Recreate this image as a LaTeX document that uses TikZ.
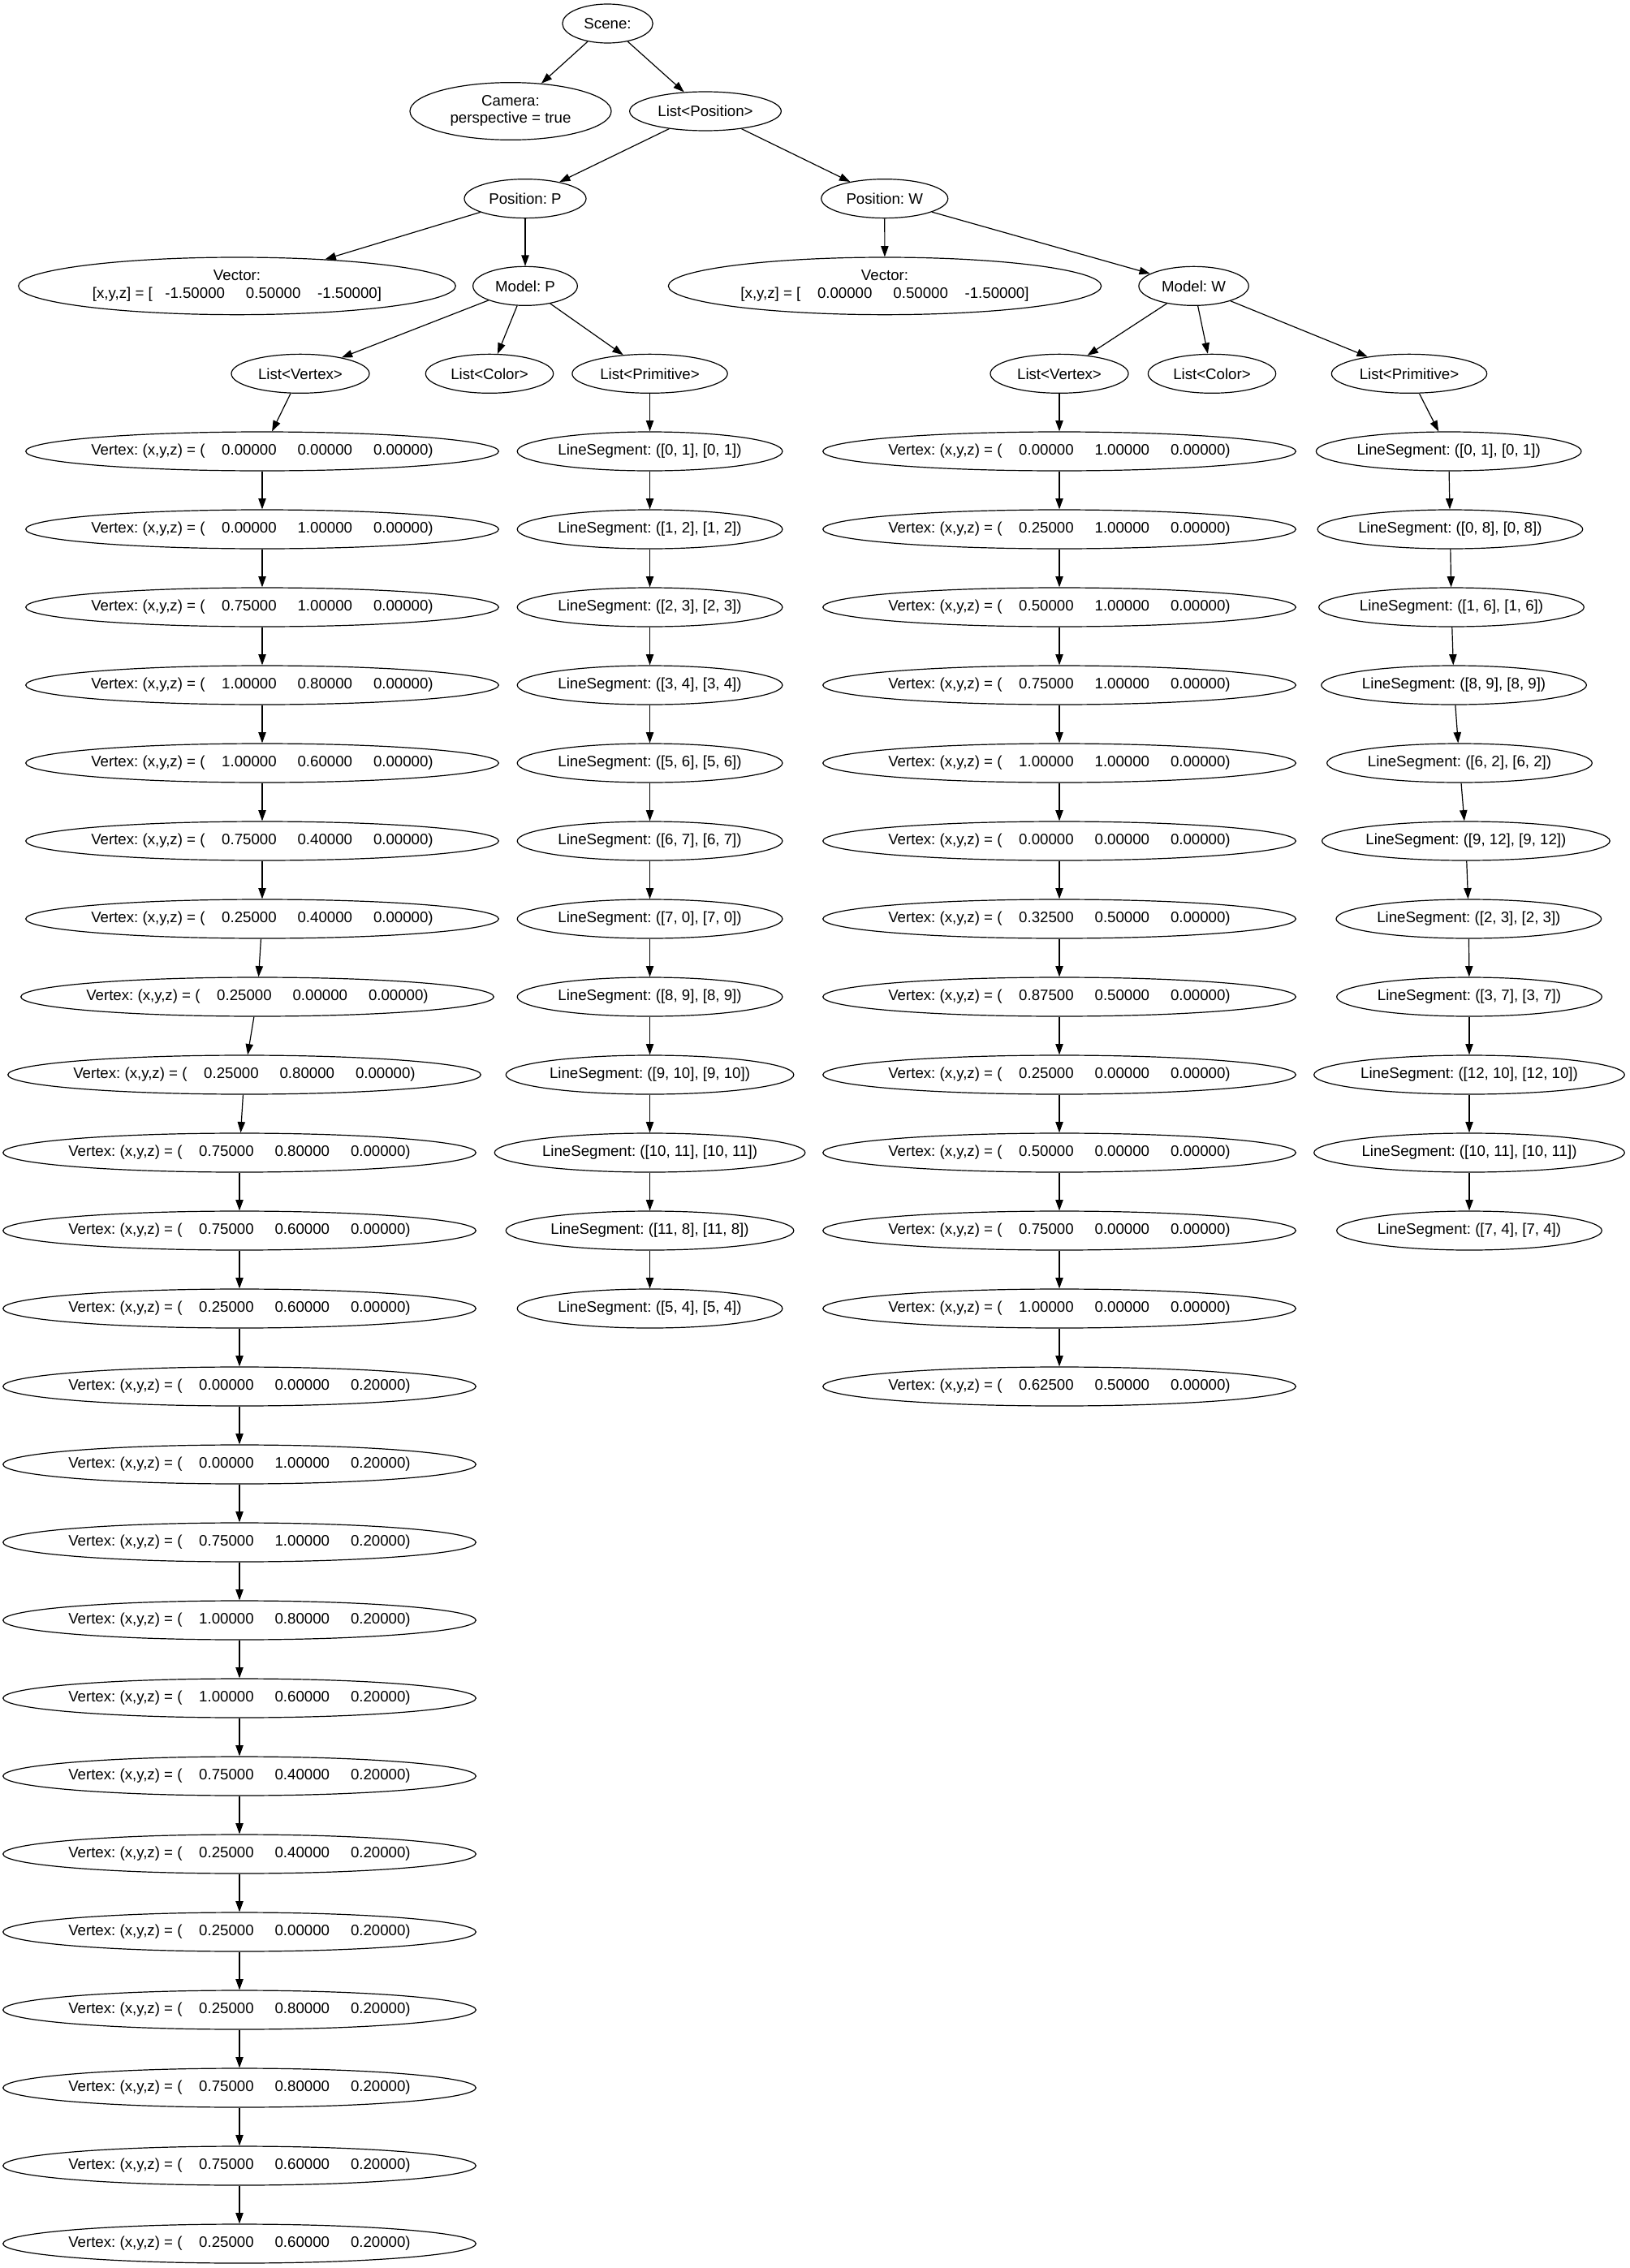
\documentclass[tikz,border=0pt]{standalone}
\usepackage{fontspec}
\setmainfont{Liberation Sans}
\usetikzlibrary{arrows.meta,shapes.geometric}
\frenchspacing
\newcommand\gfont{\fontsize{14}{16}\selectfont\frenchspacing}
\newcommand\gnode[5]{%
  \node[gn, minimum width=#4pt] (#1) at (#2pt,-#3pt) {\makebox[0pt]{#5}};}
\newcommand\vx[3]{Vertex: (x,y,z) = (\ \ \ \ #1\ \ \ \ \ #2\ \ \ \ \ #3)}
\newcommand\lseg[1]{LineSegment: (#1)}
\begin{document}
\begin{tikzpicture}[
  gn/.style={draw, ellipse, inner sep=0pt, minimum height=36pt, line width=0.9pt, font=\gfont},
  conn/.style={draw, line width=0.9pt, -{Triangle[length=10pt,width=7pt]}}
]
\useasboundingbox (0,0) rectangle (1506pt,-2095.5pt);
% top
\gnode{scene}{561.4}{21.75}{83.5}{Scene:}
\node[gn, minimum width=186pt, minimum height=53pt] (cam) at (471.75pt,-102.75pt)
  {\makebox[0pt]{\begin{tabular}{@{}c@{}}Camera:\\perspective = true\end{tabular}}};
\gnode{lpos}{651.75}{102.75}{140}{List<Position>}
\gnode{posp}{485.25}{183.5}{112.5}{Position: P}
\gnode{posw}{817.3}{183.5}{117}{Position: W}
\node[gn, minimum width=404pt, minimum height=53pt] (vecp) at (219pt,-264.25pt)
  {\makebox[0pt]{\begin{tabular}{@{}c@{}}Vector:\\{}[x,y,z] = [\ \ \ -1.50000\ \ \ \ \ 0.50000\ \ \ \ -1.50000]\end{tabular}}};
\gnode{modp}{485.25}{264.25}{96.5}{Model: P}
\node[gn, minimum width=400pt, minimum height=53pt] (vecw) at (817.5pt,-264.25pt)
  {\makebox[0pt]{\begin{tabular}{@{}c@{}}Vector:\\{}[x,y,z] = [\ \ \ \ 0.00000\ \ \ \ \ 0.50000\ \ \ \ -1.50000]\end{tabular}}};
\gnode{modw}{1102.9}{264.25}{101.5}{Model: W}
\gnode{lvp}{277.5}{345.25}{127.5}{List<Vertex>}
\gnode{lcp}{452.25}{345.25}{118}{List<Color>}
\gnode{lpp}{600.4}{345.25}{143.5}{List<Primitive>}
\gnode{lvw}{978.75}{345.25}{127.5}{List<Vertex>}
\gnode{lcw}{1119.75}{345.25}{118}{List<Color>}
\gnode{lpw}{1302}{345.25}{143.5}{List<Primitive>}
% vertices P
\gnode{vp1}{242.25}{417}{437}{\vx{0.00000}{0.00000}{0.00000}}
\gnode{vp2}{242.25}{489}{437}{\vx{0.00000}{1.00000}{0.00000}}
\gnode{vp3}{242.25}{561}{437}{\vx{0.75000}{1.00000}{0.00000}}
\gnode{vp4}{242.25}{633}{437}{\vx{1.00000}{0.80000}{0.00000}}
\gnode{vp5}{242.25}{705}{437}{\vx{1.00000}{0.60000}{0.00000}}
\gnode{vp6}{242.25}{777}{437}{\vx{0.75000}{0.40000}{0.00000}}
\gnode{vp7}{242.25}{849}{437}{\vx{0.25000}{0.40000}{0.00000}}
\gnode{vp8}{237.75}{921}{437}{\vx{0.25000}{0.00000}{0.00000}}
\gnode{vp9}{225.75}{993}{437}{\vx{0.25000}{0.80000}{0.00000}}
\gnode{vp10}{221.25}{1065}{437}{\vx{0.75000}{0.80000}{0.00000}}
\gnode{vp11}{221.25}{1137}{437}{\vx{0.75000}{0.60000}{0.00000}}
\gnode{vp12}{221.25}{1209}{437}{\vx{0.25000}{0.60000}{0.00000}}
\gnode{vp13}{221.25}{1281}{437}{\vx{0.00000}{0.00000}{0.20000}}
\gnode{vp14}{221.25}{1353}{437}{\vx{0.00000}{1.00000}{0.20000}}
\gnode{vp15}{221.25}{1425}{437}{\vx{0.75000}{1.00000}{0.20000}}
\gnode{vp16}{221.25}{1497}{437}{\vx{1.00000}{0.80000}{0.20000}}
\gnode{vp17}{221.25}{1569}{437}{\vx{1.00000}{0.60000}{0.20000}}
\gnode{vp18}{221.25}{1641}{437}{\vx{0.75000}{0.40000}{0.20000}}
\gnode{vp19}{221.25}{1713}{437}{\vx{0.25000}{0.40000}{0.20000}}
\gnode{vp20}{221.25}{1785}{437}{\vx{0.25000}{0.00000}{0.20000}}
\gnode{vp21}{221.25}{1857}{437}{\vx{0.25000}{0.80000}{0.20000}}
\gnode{vp22}{221.25}{1929}{437}{\vx{0.75000}{0.80000}{0.20000}}
\gnode{vp23}{221.25}{2001}{437}{\vx{0.75000}{0.60000}{0.20000}}
\gnode{vp24}{221.25}{2073}{437}{\vx{0.25000}{0.60000}{0.20000}}
% line segments P
\gnode{lp1}{600.4}{417}{245}{\lseg{[0, 1], [0, 1]}}
\gnode{lp2}{600.4}{489}{245}{\lseg{[1, 2], [1, 2]}}
\gnode{lp3}{600.4}{561}{245}{\lseg{[2, 3], [2, 3]}}
\gnode{lp4}{600.4}{633}{245}{\lseg{[3, 4], [3, 4]}}
\gnode{lp5}{600.4}{705}{245}{\lseg{[5, 6], [5, 6]}}
\gnode{lp6}{600.4}{777}{245}{\lseg{[6, 7], [6, 7]}}
\gnode{lp7}{600.4}{849}{245}{\lseg{[7, 0], [7, 0]}}
\gnode{lp8}{600.4}{921}{245}{\lseg{[8, 9], [8, 9]}}
\gnode{lp9}{600.4}{993}{266}{\lseg{[9, 10], [9, 10]}}
\gnode{lp10}{600.4}{1065}{287}{\lseg{[10, 11], [10, 11]}}
\gnode{lp11}{600.4}{1137}{266}{\lseg{[11, 8], [11, 8]}}
\gnode{lp12}{600.4}{1209}{245}{\lseg{[5, 4], [5, 4]}}
% vertices W
\gnode{vw1}{978.75}{417}{437}{\vx{0.00000}{1.00000}{0.00000}}
\gnode{vw2}{978.75}{489}{437}{\vx{0.25000}{1.00000}{0.00000}}
\gnode{vw3}{978.75}{561}{437}{\vx{0.50000}{1.00000}{0.00000}}
\gnode{vw4}{978.75}{633}{437}{\vx{0.75000}{1.00000}{0.00000}}
\gnode{vw5}{978.75}{705}{437}{\vx{1.00000}{1.00000}{0.00000}}
\gnode{vw6}{978.75}{777}{437}{\vx{0.00000}{0.00000}{0.00000}}
\gnode{vw7}{978.75}{849}{437}{\vx{0.32500}{0.50000}{0.00000}}
\gnode{vw8}{978.75}{921}{437}{\vx{0.87500}{0.50000}{0.00000}}
\gnode{vw9}{978.75}{993}{437}{\vx{0.25000}{0.00000}{0.00000}}
\gnode{vw10}{978.75}{1065}{437}{\vx{0.50000}{0.00000}{0.00000}}
\gnode{vw11}{978.75}{1137}{437}{\vx{0.75000}{0.00000}{0.00000}}
\gnode{vw12}{978.75}{1209}{437}{\vx{1.00000}{0.00000}{0.00000}}
\gnode{vw13}{978.75}{1281}{437}{\vx{0.62500}{0.50000}{0.00000}}
% line segments W
\gnode{lw1}{1338.5}{417}{245}{\lseg{[0, 1], [0, 1]}}
\gnode{lw2}{1339.8}{489}{245}{\lseg{[0, 8], [0, 8]}}
\gnode{lw3}{1341}{561}{245}{\lseg{[1, 6], [1, 6]}}
\gnode{lw4}{1343.3}{633}{245}{\lseg{[8, 9], [8, 9]}}
\gnode{lw5}{1348.5}{705}{245}{\lseg{[6, 2], [6, 2]}}
\gnode{lw6}{1354.4}{777}{266}{\lseg{[9, 12], [9, 12]}}
\gnode{lw7}{1357}{849}{245}{\lseg{[2, 3], [2, 3]}}
\gnode{lw8}{1357.5}{921}{245}{\lseg{[3, 7], [3, 7]}}
\gnode{lw9}{1357.5}{993}{287}{\lseg{[12, 10], [12, 10]}}
\gnode{lw10}{1357.5}{1065}{287}{\lseg{[10, 11], [10, 11]}}
\gnode{lw11}{1357.5}{1137}{245}{\lseg{[7, 4], [7, 4]}}
% edges
\draw[conn] (scene) -- (cam);
\draw[conn] (scene) -- (lpos);
\draw[conn] (lpos) -- (posp);
\draw[conn] (lpos) -- (posw);
\draw[conn] (posp) -- (vecp);
\draw[conn] (posp) -- (modp);
\draw[conn] (posw) -- (vecw);
\draw[conn] (posw) -- (modw);
\draw[conn] (modp) -- (lvp);
\draw[conn] (modp) -- (lcp);
\draw[conn] (modp) -- (lpp);
\draw[conn] (modw) -- (lvw);
\draw[conn] (modw) -- (lcw);
\draw[conn] (modw) -- (lpw);
\draw[conn] (lvp) -- (vp1);
\draw[conn] (lpp) -- (lp1);
\draw[conn] (lvw) -- (vw1);
\draw[conn] (lpw) -- (lw1);
\foreach \i [count=\j from 2] in {1,...,23} {\draw[conn] (vp\i) -- (vp\j);}
\foreach \i [count=\j from 2] in {1,...,11} {\draw[conn] (lp\i) -- (lp\j);}
\foreach \i [count=\j from 2] in {1,...,12} {\draw[conn] (vw\i) -- (vw\j);}
\foreach \i [count=\j from 2] in {1,...,10} {\draw[conn] (lw\i) -- (lw\j);}
\end{tikzpicture}
\end{document}
